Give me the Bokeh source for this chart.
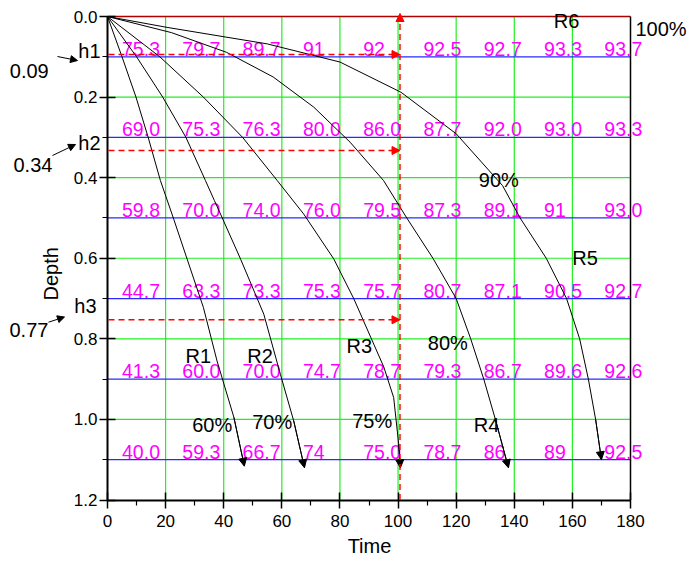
import math
from bokeh.plotting import figure
from bokeh.models import (Range1d, FixedTicker, Label, Arrow, NormalHead,
                          LinearAxis, PrintfTickFormatter)
from bokeh.embed import file_html
from bokeh.resources import INLINE
from bokeh.core.properties import value

# ---------------- data ----------------
time_ticks = [0, 20, 40, 60, 80, 100, 120, 140, 160, 180]
time_minor = [10, 30, 50, 70, 90, 110, 130, 150, 170]
depth_ticks = [0.0, 0.2, 0.4, 0.6, 0.8, 1.0, 1.2]
depth_minor = [0.1, 0.3, 0.5, 0.7, 0.9, 1.1]
TIME_MAX = 180
DEPTH_MAX = 1.2

green_x = [20, 40, 60, 80, 100, 120, 140, 160]
green_y = [0.2, 0.4, 0.6, 0.8, 1.0]
row_depths = [0.1, 0.3, 0.5, 0.7, 0.9, 1.1]

row_01 = ["75.3", "79.7", "89.7", "91", "92", "92.5", "92.7", "93.3", "93.7"]
row_03 = ["69.0", "75.3", "76.3", "80.0", "86.0", "87.7", "92.0", "93.0", "93.3"]
row_05 = ["59.8", "70.0", "74.0", "76.0", "79.5", "87.3", "89.1", "91", "93.0"]
row_07 = ["44.7", "63.3", "73.3", "75.3", "75.7", "80.7", "87.1", "90.5", "92.7"]
row_09 = ["41.3", "60.0", "70.0", "74.7", "78.7", "79.3", "86.7", "89.6", "92.6"]
row_11 = ["40.0", "59.3", "66.7", "74", "75.0", "78.7", "86", "89", "92.5"]
rows = [row_01, row_03, row_05, row_07, row_09, row_11]

# curves (time, depth)
R1_t = [0, 5.0, 9.8, 14.0, 18.2, 22.8, 27.4, 33.0, 37.7, 43.5, 47.1]
R1_d = [0, 0.1, 0.2, 0.3, 0.407, 0.503, 0.602, 0.722, 0.855, 0.995, 1.116]
R2_t = [0, 10.0, 19.0, 27.0, 33.7, 36.8, 39.5, 45.8, 53.8, 59.5, 64.1, 67.8]
R2_d = [0, 0.1, 0.2, 0.3, 0.407, 0.457, 0.5, 0.602, 0.739, 0.888, 1.004, 1.12]
R3_t = [0, 18.0, 33.0, 46.5, 58.4, 67.5, 77.9, 84.8, 95.1, 98.5, 100.2, 100.8]
R3_d = [0, 0.1, 0.2, 0.3, 0.407, 0.49, 0.602, 0.701, 0.87, 0.946, 1.06, 1.12]
R4_t = [0, 22.0, 41.0, 57.0, 71.0, 83.5, 95.0, 103.0, 112.0, 120.0, 125.0, 129.5, 133.5, 138.0]
R4_d = [0, 0.04, 0.089, 0.15, 0.225, 0.312, 0.407, 0.5, 0.6, 0.7, 0.8, 0.9, 1.0, 1.12]
R5_t = [0, 20.5, 55.0, 80.0, 101.0, 120.0, 136.0, 142.0, 151.0, 158.0, 162.5, 165.5, 168.0, 170.0]
R5_d = [0, 0.027, 0.068, 0.113, 0.188, 0.291, 0.42, 0.5, 0.6, 0.7, 0.8, 0.9, 1.0, 1.1]
curves = [(R1_t, R1_d), (R2_t, R2_d), (R3_t, R3_d), (R4_t, R4_d), (R5_t, R5_d)]

h_names = ["h1", "h2", "h3"]
h_values = ["0.09", "0.34", "0.77"]
curve_names = ["R1", "R2", "R3", "R4", "R5", "R6"]
percent_names = ["60%", "70%", "75%", "80%", "90%", "100%"]

FONT = "Liberation Sans"

# ---------------- pixel geometry (canvas == frame) ----------------
W, H = 689, 561
X0, X1 = 107.0, 630.0      # pixels of time 0 and 180
Y0, Y1 = 16.0, 499.5       # pixels of depth 0 and 1.2
SX = (X1 - X0) / TIME_MAX
SY = (Y1 - Y0) / DEPTH_MAX

def T(px):
    return (px - X0) / SX

def D(py):
    return (py - Y0) / SY

p = figure(width=W, height=H, x_range=Range1d(T(0), T(W)), y_range=Range1d(D(H), D(0)),
           output_backend="svg", toolbar_location=None, title=None,
           x_axis_location=None, y_axis_location=None,
           min_border_left=0, min_border_right=0, min_border_top=0, min_border_bottom=0)
p.outline_line_color = None
p.background_fill_color = "white"
p.border_fill_color = "white"
p.grid.visible = False

# grid lines limited to the data area
p.segment(x0=green_x, y0=[0] * len(green_x), x1=green_x, y1=[DEPTH_MAX] * len(green_x),
          line_color="#22ee22", line_width=1.2)
p.segment(x0=[0] * len(green_y), y0=green_y, x1=[TIME_MAX] * len(green_y), y1=green_y,
          line_color="#22ee22", line_width=1.2)
p.segment(x0=[0] * len(row_depths), y0=row_depths, x1=[TIME_MAX] * len(row_depths), y1=row_depths,
          line_color="#2a2aff", line_width=1.2)
p.segment(x0=[0], y0=[0], x1=[TIME_MAX], y1=[0], line_color="#b00000", line_width=1.5)
p.segment(x0=[TIME_MAX], y0=[0], x1=[TIME_MAX], y1=[DEPTH_MAX], line_color="black", line_width=1.5)

# axes fixed at the data area edges
xax = LinearAxis(fixed_location=DEPTH_MAX, bounds=(0, TIME_MAX),
                 ticker=FixedTicker(ticks=time_ticks, minor_ticks=time_minor),
                 formatter=PrintfTickFormatter(format="%d"))
yax = LinearAxis(fixed_location=0, bounds=(0, DEPTH_MAX),
                 ticker=FixedTicker(ticks=depth_ticks, minor_ticks=depth_minor),
                 formatter=PrintfTickFormatter(format="%.1f"))
for ax in (xax, yax):
    ax.axis_line_width = 2
    ax.axis_line_color = "black"
    ax.major_tick_line_width = 1.5
    ax.minor_tick_line_width = 1.2
    ax.major_tick_in = 8
    ax.major_tick_out = 8
    ax.minor_tick_in = 0
    ax.minor_tick_out = 5
    ax.major_label_text_font = FONT
    ax.major_label_text_font_size = "17px"
    ax.major_label_text_color = "black"
xax.major_label_standoff = 7
yax.major_label_standoff = 2
p.add_layout(xax, "below")
p.add_layout(yax, "left")

# magenta value labels
xs, ys, ts = [], [], []
for d, row in zip(row_depths, rows):
    for i, t in enumerate(row):
        xs.append(5 + 20.75 * i)
        ys.append(d - 8.0 / SY)
        ts.append(t)
p.text(x=xs, y=ys, text=ts, text_font=value(FONT), text_font_size="19.5px",
       text_color="#ff00ff", text_align="left", text_baseline="middle")

# curves with arrow heads
for t, d in curves:
    p.line(t, d, line_color="black", line_width=1)
    p.add_layout(Arrow(end=NormalHead(size=8, fill_color="black", line_color="black"),
                       x_start=t[-2], y_start=d[-2], x_end=t[-1], y_end=d[-1],
                       line_color="black", line_width=1))

# red dashed arrows (horizontal at h levels, vertical at t = 100)
h_px = [54.0, 150.0, 319.3]
vx = T(399.5)
for hp in h_px:
    p.add_layout(Arrow(end=NormalHead(size=8, fill_color="red", line_color="red"),
                       x_start=T(108), y_start=D(hp), x_end=vx, y_end=D(hp),
                       line_color="red", line_width=1.4, line_dash="6 4"))
p.add_layout(Arrow(end=NormalHead(size=8, fill_color="red", line_color="red"),
                   x_start=vx, y_start=DEPTH_MAX, x_end=vx, y_end=D(13),
                   line_color="red", line_width=1.4, line_dash="6 4"))

def lab(px, py, text, align="left", angle=0.0, size="20px"):
    p.add_layout(Label(x=T(px), y=D(py), text=text, text_font=FONT, text_font_size=size,
                       text_color="black", text_align=align, text_baseline="middle",
                       angle=angle))

# curve and percentage labels (left edge px, centre px)
curve_pos = [(185, 355.8), (246.7, 355.8), (346, 345.8), (473.3, 424.2), (571.7, 257.5), (553.3, 20.8)]
pct_pos = [(191.7, 424.2), (251.7, 421.8), (351.7, 420.8), (427.3, 342.5), (478.3, 179.2), (635, 28.3)]
for name, (px, py) in zip(curve_names, curve_pos):
    lab(px, py, name)
for name, (px, py) in zip(percent_names, pct_pos):
    lab(px, py, name)

# left annotations
h_lab_pos = [(100, 50.5), (100, 142.5), (96, 305.5)]
for name, (px, py) in zip(h_names, h_lab_pos):
    lab(px, py, name, align="right")
val_pos = [(9.3, 70.0), (13.0, 164.5), (9.0, 329.5)]
for txt, (px, py) in zip(h_values, val_pos):
    lab(px, py, txt)
arrow_px = [(57, 56, 77, 60), (52, 155, 75, 144), (48, 321.7, 64, 316.5)]
for (a, b, c, e) in arrow_px:
    p.add_layout(Arrow(end=NormalHead(size=7, fill_color="black", line_color="black"),
                       x_start=T(a), y_start=D(b), x_end=T(c), y_end=D(e),
                       line_color="black", line_width=1))

# axis titles
lab(50, 273.3, "Depth", align="center", angle=math.pi / 2)
lab(369, 545.5, "Time", align="center")

open("out.html", "w").write(file_html(p, INLINE))
